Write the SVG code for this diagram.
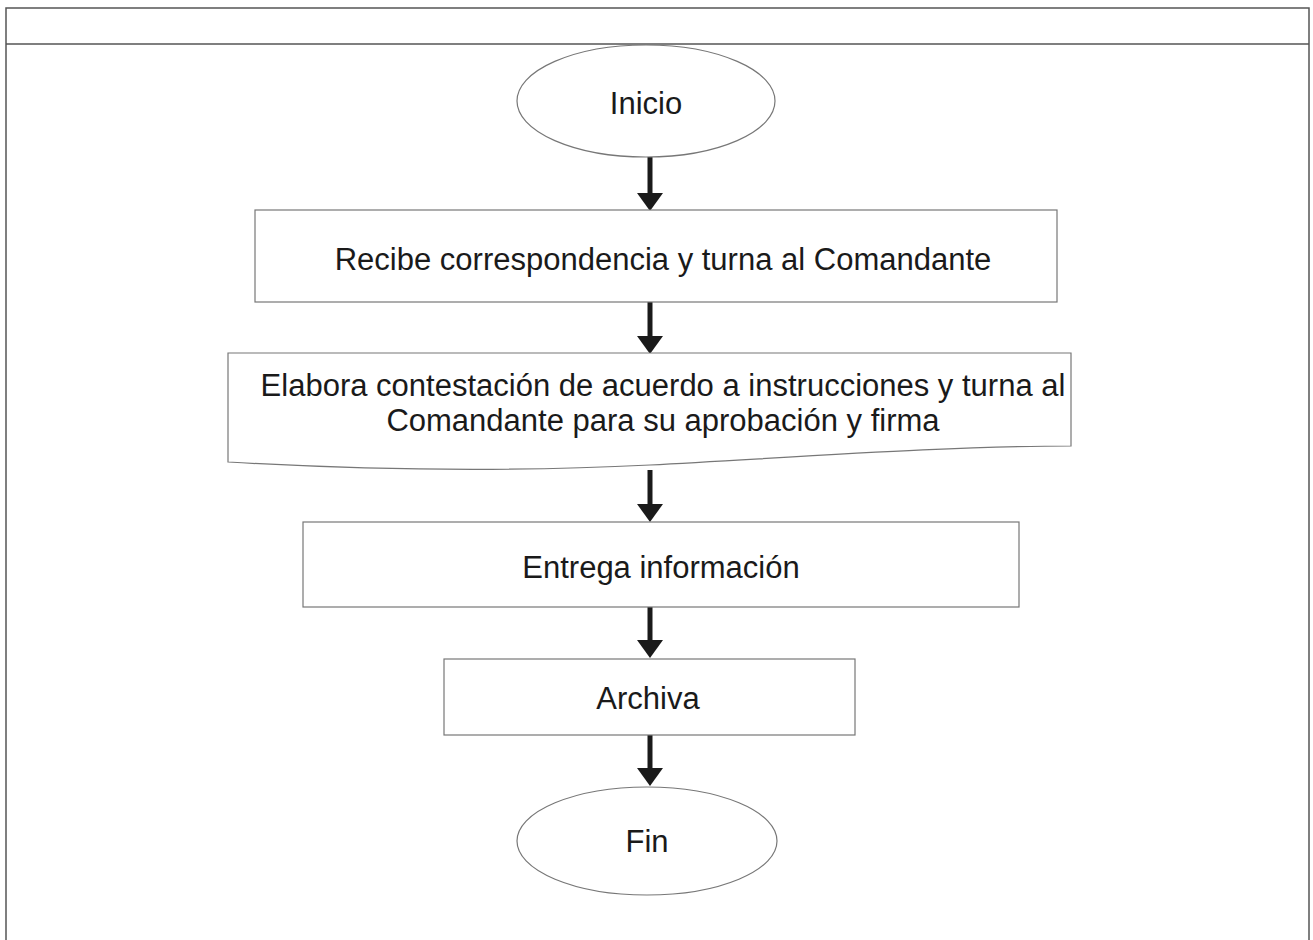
<svg xmlns="http://www.w3.org/2000/svg" width="1313" height="940" viewBox="0 0 1313 940">
<style>
.frame{fill:none;stroke:#555;stroke-width:1.5}
.node{fill:#fff;stroke:#777;stroke-width:1.2}
.lbl{font-family:"Liberation Sans",Arial,sans-serif;font-size:31px;fill:#1a1a1a;text-anchor:middle}
.shaft{stroke:#1a1a1a;stroke-width:5}
.head{fill:#1a1a1a}
</style>
<rect width="1313" height="940" fill="#fff"/>
<g id="frame">
<path class="frame" d="M6,940 V8 H1309 V940"/>
<line class="frame" x1="6" y1="44" x2="1309" y2="44"/>
</g>
<g id="connectors">
<line class="shaft" x1="650" y1="157" x2="650" y2="195"/>
<polygon class="head" points="637,193 663,193 650,211"/>
<line class="shaft" x1="650" y1="302" x2="650" y2="338"/>
<polygon class="head" points="637,336 663,336 650,354"/>
<line class="shaft" x1="650" y1="470" x2="650" y2="506"/>
<polygon class="head" points="637,504 663,504 650,522"/>
<line class="shaft" x1="650" y1="607" x2="650" y2="642"/>
<polygon class="head" points="637,640 663,640 650,658"/>
<line class="shaft" x1="650" y1="735" x2="650" y2="770"/>
<polygon class="head" points="637,768 663,768 650,786"/>
</g>
<g id="inicio">
<ellipse class="node" cx="646" cy="101" rx="129" ry="56"/>
<text class="lbl" x="646" y="114">Inicio</text>
</g>
<g id="recibe">
<rect class="node" x="255" y="210" width="802" height="92"/>
<text class="lbl" x="663" y="270">Recibe correspondencia y turna al Comandante</text>
</g>
<g id="elabora">
<path class="node" d="M228,353 H1071 V446 C950,446 800,457 650,465 C550,470 400,472 228,462 Z"/>
<text class="lbl" x="663" y="396">Elabora contestación de acuerdo a instrucciones y turna al</text>
<text class="lbl" x="663" y="431">Comandante para su aprobación y firma</text>
</g>
<g id="entrega">
<rect class="node" x="303" y="522" width="716" height="85"/>
<text class="lbl" x="661" y="578">Entrega información</text>
</g>
<g id="archiva">
<rect class="node" x="444" y="659" width="411" height="76"/>
<text class="lbl" x="648" y="709">Archiva</text>
</g>
<g id="fin">
<ellipse class="node" cx="647" cy="841" rx="130" ry="54"/>
<text class="lbl" x="647" y="852">Fin</text>
</g>
</svg>
